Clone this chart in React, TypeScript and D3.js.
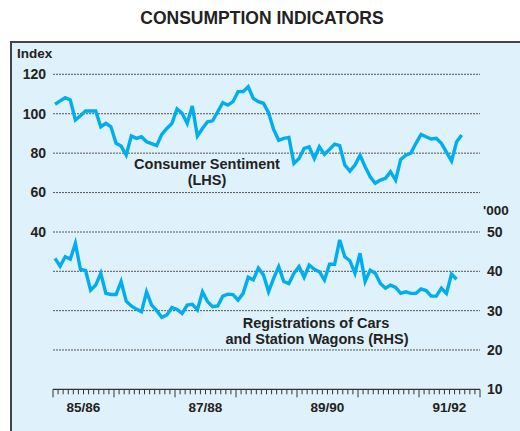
import React from "react";
import * as d3 from "d3";

// monthly, starting July 1985
const sentiment = [
  104.8, 106.5, 108.1, 107, 96.8, 99, 101.4, 101.4, 101.4, 93.4, 95.1, 93.4,
  85, 83.6, 79, 88.7, 87.5, 88.3, 85.8, 84.8, 83.8, 89.5, 92.5, 95.1,
  102.4, 100.2, 95.1, 103.9, 88.7, 92.5, 95.9, 96.4, 101, 105.6, 104.4, 106.1,
  111.2, 111.2, 113.7, 107.8, 106.1, 105.3, 100.5, 92, 86.5, 87.5, 88, 74.8,
  77.3, 82.4, 83.2, 77.3, 83.2, 79.4, 81.9, 84.6, 83.8, 74, 70.9, 74,
  79, 73.1, 68, 64.7, 66.3, 67.2, 70.6, 66.3, 76.8, 79, 80, 85,
  89.5, 88.3, 87.2, 87.5, 85, 80.5, 76, 85.8, 89.2,
];

const registrations = [
  43.3, 41.3, 43.7, 43.1, 47.1, 40.5, 40.2, 35.2, 36.5, 39.5, 34.4, 34.1,
  34.1, 37.4, 32.4, 31.2, 30.4, 29.7, 34.8, 31.4, 30, 28.3, 28.9, 30.8,
  30.3, 29.3, 31.4, 31.6, 30.2, 34.8, 32.3, 31, 31.2, 33.7, 34.2, 34.1,
  32.7, 34.4, 38.5, 37.8, 40.8, 39.1, 34.8, 38.2, 41.2, 37.4, 36.9, 39.5,
  41.2, 38.5, 41.6, 40.5, 39.9, 37.8, 41.8, 41.8, 48, 43.7, 42.7, 39.5,
  44.6, 37.4, 40.3, 39.5, 36.9, 35.7, 36.5, 35.9, 34.4, 34.8, 34.4, 34.4,
  35.5, 35.1, 33.7, 33.7, 35.7, 34.4, 39.3, 38,
];

const yearLabels = ["85/86", "86/87", "87/88", "88/89", "89/90", "90/91", "91/92"];
const shownYears = ["85/86", "87/88", "89/90", "91/92"];
const leftTicks = [120, 100, 80, 60, 40];
const rightTicks = [50, 40, 30, 20, 10];

const W = 520;
const H = 431;
const plotL = 53;
const plotR = 480;
const lineColor = "#00aeef";
const font = "'Liberation Sans', Arial, sans-serif";

export default function App() {
  const months = yearLabels.length * 12;
  const x = d3.scaleLinear().domain([0, months]).range([plotL, plotR]);
  const yL = d3.scaleLinear().domain([40, 120]).range([232, 74.3]);
  const yR = d3.scaleLinear().domain([10, 50]).range([389.3, 232]);

  const lineL = d3
    .line<number>()
    .x((d, i) => x(i + 0.4))
    .y((d) => yL(d));
  const lineR = d3
    .line<number>()
    .x((d, i) => x(i + 0.4))
    .y((d) => yR(d));

  const axisY = yR(10);

  return (
    <svg
      width={W}
      height={H}
      style={{ position: "absolute", left: 0, top: 0 }}
      fontFamily={font}
    >
      <rect x={0} y={0} width={W} height={H} fill="#fff" />
      <text
        x={262}
        y={24}
        textAnchor="middle"
        fontSize={17.5}
        fontWeight="bold"
        fill="#222"
      >
        CONSUMPTION INDICATORS
      </text>

      <rect
        x={11}
        y={42}
        width={W}
        height={H}
        fill="#dff1fa"
        stroke="#444"
        strokeWidth={2}
      />

      {/* gridlines */}
      {leftTicks.map((t) => (
        <line
          key={"gl" + t}
          x1={plotL}
          x2={plotR}
          y1={yL(t)}
          y2={yL(t)}
          stroke="#555"
          strokeWidth={1}
          strokeDasharray="2,1"
        />
      ))}
      {rightTicks
        .filter((t) => t !== 10 && t !== 50)
        .map((t) => (
          <line
            key={"gr" + t}
            x1={plotL}
            x2={plotR}
            y1={yR(t)}
            y2={yR(t)}
            stroke="#555"
            strokeWidth={1}
            strokeDasharray="2,1"
          />
        ))}

      {/* left axis labels */}
      <text x={17} y={58} fontSize={13.5} fontWeight="bold" fill="#222">
        Index
      </text>
      {leftTicks.map((t) => (
        <text
          key={"tl" + t}
          x={46}
          y={yL(t)}
          dy="0.35em"
          textAnchor="end"
          fontSize={14}
          fontWeight="bold"
          fill="#222"
        >
          {t}
        </text>
      ))}

      {/* right axis labels */}
      <text x={483} y={215} fontSize={13.5} fontWeight="bold" fill="#222">
        '000
      </text>
      {rightTicks.map((t) => (
        <text
          key={"tr" + t}
          x={487}
          y={yR(t)}
          dy="0.35em"
          fontSize={14}
          fontWeight="bold"
          fill="#222"
        >
          {t}
        </text>
      ))}

      {/* x axis */}
      <line x1={plotL} x2={plotR} y1={axisY} y2={axisY} stroke="#333" strokeWidth={1.2} />
      {d3.range(0, months + 1).map((m) => (
        <line
          key={"tk" + m}
          x1={x(m)}
          x2={x(m)}
          y1={axisY}
          y2={axisY + (m % 12 === 0 ? 8 : 5)}
          stroke="#333"
          strokeWidth={1}
        />
      ))}
      {yearLabels.map((lab, i) =>
        shownYears.includes(lab) ? (
          <text
            key={lab}
            x={x(i * 12 + 6)}
            y={412}
            textAnchor="middle"
            fontSize={13.5}
            fontWeight="bold"
            fill="#222"
          >
            {lab}
          </text>
        ) : null
      )}

      {/* series */}
      <path
        d={lineL(sentiment) || ""}
        fill="none"
        stroke={lineColor}
        strokeWidth={3.4}
        strokeLinejoin="miter"
      />
      <path
        d={lineR(registrations) || ""}
        fill="none"
        stroke={lineColor}
        strokeWidth={3.4}
        strokeLinejoin="miter"
      />

      {/* series labels */}
      <g fontSize={14.5} fontWeight="bold" fill="#222" textAnchor="middle">
        <text x={207} y={169}>Consumer Sentiment</text>
        <text x={207} y={185}>(LHS)</text>
        <text x={316} y={328}>Registrations of Cars</text>
        <text x={317} y={344}>and Station Wagons (RHS)</text>
      </g>
    </svg>
  );
}
